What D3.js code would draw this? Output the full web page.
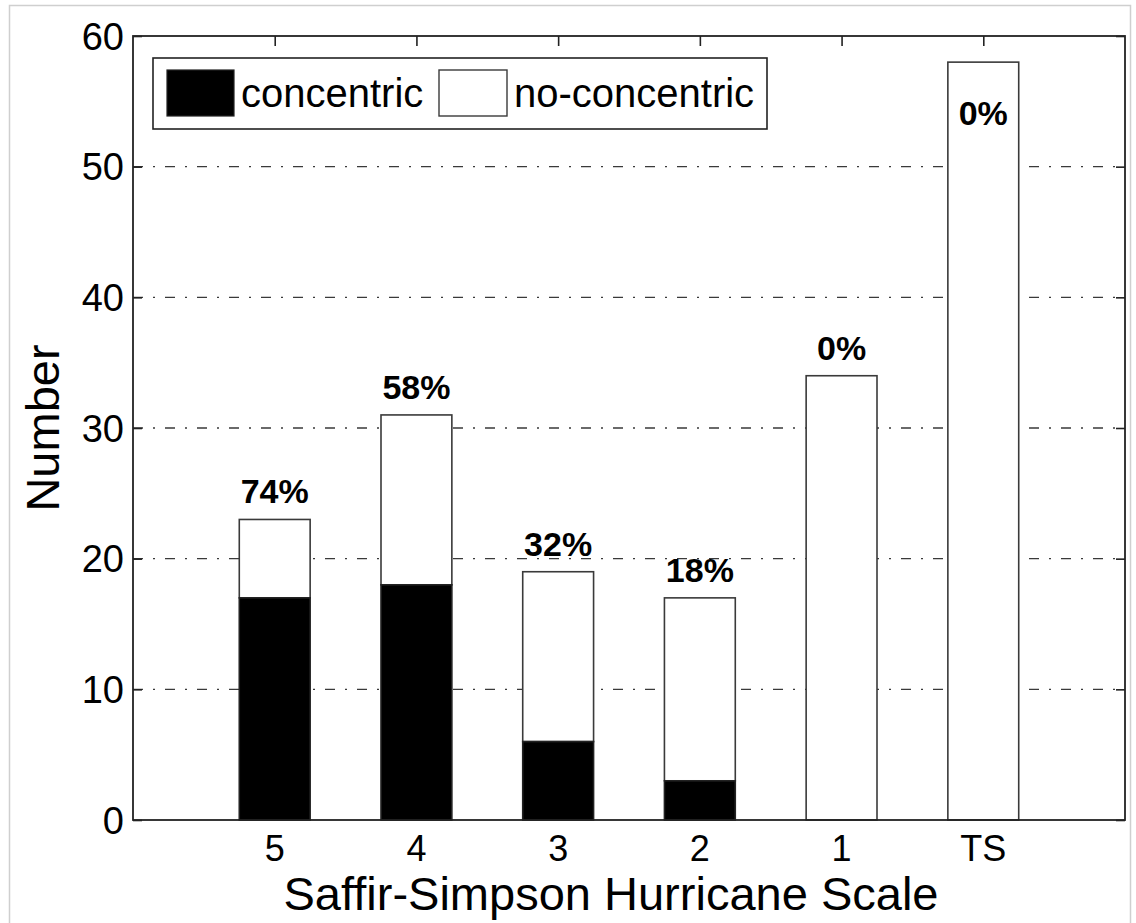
<!DOCTYPE html>
<html>
<head>
<meta charset="utf-8">
<script src="https://cdn.jsdelivr.net/npm/d3@7"></script>
<style>
  html, body { margin: 0; padding: 0; background: #fff; }
  svg { display: block; }
  text { font-family: "Liberation Sans", Arial, Helvetica, sans-serif; fill: #000; }
</style>
</head>
<body>
<svg id="chart" width="1136" height="923"></svg>
<script>
// Hurricane counts by Saffir-Simpson category
const categories = ["5", "4", "3", "2", "1", "TS"];
const concentric = [17, 18, 6, 3, 0, 0];
const noConcentric = [6, 13, 13, 14, 34, 58];
const percentLabels = ["74%", "58%", "32%", "18%", "0%", "0%"];
const yTicks = [0, 10, 20, 30, 40, 50, 60];
const legendLabels = ["concentric", "no-concentric"];

const svg = d3.select("#chart");
const plotLeft = 133, plotRight = 1125, plotTop = 36, plotBottom = 820;

// outer image frame
svg.append("rect")
  .attr("x", 9.5).attr("y", 5.5)
  .attr("width", 1121).attr("height", 940)
  .attr("fill", "none").attr("stroke", "#cfcfcf").attr("stroke-width", 1.5);

const x = d3.scaleLinear().domain([0, categories.length + 1]).range([plotLeft, plotRight]);
const y = d3.scaleLinear().domain([0, 60]).range([plotBottom, plotTop]);
const barW = x(0.5) - x(0);

// dash-dot grid lines
const g = svg.append("g");
g.selectAll("line.grid")
  .data(yTicks.filter(v => v > 0 && v < 60))
  .join("line")
  .attr("class", "grid")
  .attr("x1", plotLeft).attr("x2", plotRight)
  .attr("y1", d => y(d)).attr("y2", d => y(d))
  .attr("stroke", "#3a3a3a").attr("stroke-width", 1.4)
  .attr("stroke-dasharray", "10,10,2,10");

// stacked bars
const data = categories.map((c, i) => ({
  cat: c, i: i + 1, con: concentric[i], non: noConcentric[i],
  total: concentric[i] + noConcentric[i], label: percentLabels[i]
}));

g.selectAll("rect.non")
  .data(data)
  .join("rect")
  .attr("class", "non")
  .attr("x", d => x(d.i) - barW / 2)
  .attr("width", barW)
  .attr("y", d => y(d.total))
  .attr("height", d => y(d.con) - y(d.total))
  .attr("fill", "#fff").attr("stroke", "#3a3a3a").attr("stroke-width", 1.6);

g.selectAll("rect.con")
  .data(data.filter(d => d.con > 0))
  .join("rect")
  .attr("class", "con")
  .attr("x", d => x(d.i) - barW / 2)
  .attr("width", barW)
  .attr("y", d => y(d.con))
  .attr("height", d => y(0) - y(d.con))
  .attr("fill", "#000").attr("stroke", "#222").attr("stroke-width", 1.6);

// percentage labels (placed inside the bar when it reaches the top of the axes)
g.selectAll("text.pct")
  .data(data)
  .join("text")
  .attr("class", "pct")
  .attr("x", d => x(d.i))
  .attr("y", d => d.total > 55 ? y(d.total) + 63 : y(d.total) - 16)
  .attr("text-anchor", "middle")
  .attr("font-size", 34).attr("font-weight", "bold")
  .text(d => d.label);

// axes frame
svg.append("rect")
  .attr("x", plotLeft).attr("y", plotTop)
  .attr("width", plotRight - plotLeft).attr("height", plotBottom - plotTop)
  .attr("fill", "none").attr("stroke", "#222").attr("stroke-width", 1.8);

// y axis ticks (left and right, inward)
const yAxisL = d3.axisRight(y).tickValues(yTicks).tickSize(9).tickFormat("");
const yAxisR = d3.axisLeft(y).tickValues(yTicks).tickSize(9).tickFormat("");
svg.append("g").attr("transform", `translate(${plotLeft},0)`).call(yAxisL)
  .call(s => s.select(".domain").remove())
  .selectAll("line").attr("stroke", "#222").attr("stroke-width", 1.6);
svg.append("g").attr("transform", `translate(${plotRight},0)`).call(yAxisR)
  .call(s => s.select(".domain").remove())
  .selectAll("line").attr("stroke", "#222").attr("stroke-width", 1.6);

// y tick labels
svg.append("g").selectAll("text")
  .data(yTicks)
  .join("text")
  .attr("x", plotLeft - 9)
  .attr("y", d => y(d))
  .attr("dy", "0.36em")
  .attr("text-anchor", "end")
  .attr("font-size", 38)
  .text(d => d);

// x axis ticks (top, inward)
const xTickVals = data.map(d => d.i);
const xAxisT = d3.axisBottom(x).tickValues(xTickVals).tickSize(10).tickFormat("");
svg.append("g").attr("transform", `translate(0,${plotTop})`).call(xAxisT)
  .call(s => s.select(".domain").remove())
  .selectAll("line").attr("stroke", "#222").attr("stroke-width", 1.6);

// x tick labels
svg.append("g").selectAll("text")
  .data(data)
  .join("text")
  .attr("x", d => x(d.i))
  .attr("y", 861)
  .attr("text-anchor", "middle")
  .attr("font-size", 36)
  .text(d => d.cat);

// axis titles
svg.append("text")
  .attr("x", 611).attr("y", 910)
  .attr("text-anchor", "middle")
  .attr("font-size", 46)
  .attr("textLength", 655)
  .attr("lengthAdjust", "spacingAndGlyphs")
  .text("Saffir-Simpson Hurricane Scale");

svg.append("text")
  .attr("transform", `translate(59,${(plotTop + plotBottom) / 2}) rotate(-90)`)
  .attr("text-anchor", "middle")
  .attr("font-size", 47)
  .text("Number");

// legend
const lg = svg.append("g");
lg.append("rect")
  .attr("x", 153).attr("y", 58).attr("width", 614).attr("height", 71)
  .attr("fill", "#fff").attr("stroke", "#222").attr("stroke-width", 1.6);
lg.append("rect")
  .attr("x", 167).attr("y", 70).attr("width", 67).attr("height", 46)
  .attr("fill", "#000").attr("stroke", "#222").attr("stroke-width", 1.2);
lg.append("text")
  .attr("x", 241).attr("y", 93).attr("dy", "0.36em")
  .attr("font-size", 40)
  .text(legendLabels[0]);
lg.append("rect")
  .attr("x", 439).attr("y", 70).attr("width", 68).attr("height", 46)
  .attr("fill", "#fff").attr("stroke", "#3a3a3a").attr("stroke-width", 1.4);
lg.append("text")
  .attr("x", 514).attr("y", 93).attr("dy", "0.36em")
  .attr("font-size", 40)
  .text(legendLabels[1]);
</script>
</body>
</html>
